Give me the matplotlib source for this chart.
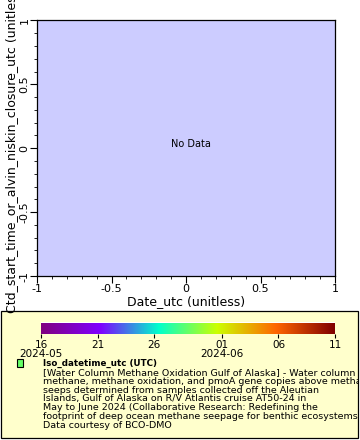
import numpy as np
import matplotlib
matplotlib.use("Agg")
import matplotlib.pyplot as plt
import matplotlib.dates as mdates
from matplotlib.colors import LinearSegmentedColormap, Normalize
from matplotlib.patches import Rectangle
from matplotlib.ticker import MultipleLocator
import datetime as dt

plt.rcParams['font.family'] = ['DejaVu Sans']

# ---- data (no data in this chart) ----
date_utc = np.array([])
ctd_time = np.array([])
iso_datetime = np.array([])

x_label = "Date_utc (unitless)"
y_label = "Ctd_start_time_or_alvin_niskin_closure_utc (unitless)"
axis_ticks = [-1, -0.5, 0, 0.5, 1]
axis_tick_labels = ["-1", "-0.5", "0", "0.5", "1"]

cbar_start = dt.datetime(2024, 5, 16)
cbar_end = dt.datetime(2024, 6, 11)
cbar_tick_dates = [dt.datetime(2024, 5, 16), dt.datetime(2024, 5, 21), dt.datetime(2024, 5, 26),
                   dt.datetime(2024, 6, 1), dt.datetime(2024, 6, 6), dt.datetime(2024, 6, 11)]
cbar_tick_labels = ["16\n2024-05", "21", "26", "01\n2024-06", "06", "11"]

legend_title = "Iso_datetime_utc (UTC)"
legend_lines = [
    "[Water Column Methane Oxidation Gulf of Alaska] - Water column",
    "methane, methane oxidation, and pmoA gene copies above methane",
    "seeps determined from samples collected off the Aleutian",
    "Islands, Gulf of Alaska on R/V Atlantis cruise AT50-24 in",
    "May to June 2024 (Collaborative Research: Redefining the",
    "footprint of deep ocean methane seepage for benthic ecosystems)",
    "Data courtesy of BCO-DMO",
]

cmap = LinearSegmentedColormap.from_list(
    "rainbow2", ["#800080", "#7F00FF", "#00FFCC", "#CCFF00", "#FF6600", "#800000"])

W, H = 360, 440
fig = plt.figure(figsize=(W / 100, H / 100), dpi=100)
fig.patch.set_facecolor("white")

def fx(px):
    return px / W

def fy(py):
    return 1 - py / H

# legend box (behind everything)
leg = Rectangle((fx(1), fy(438)), fx(358) - fx(1), fy(311) - fy(438), transform=fig.transFigure,
                facecolor="#FFFFCC", edgecolor="black", linewidth=0.9, zorder=-5)
fig.add_artist(leg)

# main axes
ax = fig.add_axes([fx(37), fy(276), fx(335) - fx(37), fy(20.5) - fy(276)])
ax.set_facecolor("#CCCCFF")
norm = Normalize(mdates.date2num(cbar_start), mdates.date2num(cbar_end))
ax.scatter(date_utc, ctd_time, c=iso_datetime, cmap=cmap, norm=norm, s=10)
ax.set_xlim(-1, 1)
ax.set_ylim(-1, 1)
ax.set_xticks(axis_ticks)
ax.set_xticklabels(axis_tick_labels)
ax.set_yticks(axis_ticks)
ax.set_yticklabels(axis_tick_labels, rotation=90, va="center")
ax.xaxis.set_minor_locator(MultipleLocator(0.1))
ax.yaxis.set_minor_locator(MultipleLocator(0.1))
ax.tick_params(which="major", direction="out", length=5, width=0.8, labelsize=8, pad=0.5)
ax.tick_params(which="minor", direction="out", length=2.5, width=0.6)
for s in ax.spines.values():
    s.set_linewidth(0.9)
ax.set_xlabel(x_label, fontsize=9, labelpad=1)
ax.set_ylabel(y_label, fontsize=9, labelpad=1)
ax.text(0.03, 0.03, "No Data", ha="center", va="center", fontsize=7)

# colorbar
cax = fig.add_axes([fx(41), fy(334), fx(335) - fx(41), fy(322.5) - fy(334)])
grad = np.linspace(0, 1, 512).reshape(1, -1)
cax.imshow(grad, aspect="auto", cmap=cmap,
           extent=[mdates.date2num(cbar_start), mdates.date2num(cbar_end), 0, 1])
cax.set_xlim(mdates.date2num(cbar_start), mdates.date2num(cbar_end))
cax.set_ylim(0, 1)
cax.set_yticks([])
cax.set_xticks([mdates.date2num(d) for d in cbar_tick_dates])
cax.set_xticklabels(cbar_tick_labels, fontsize=7.5, linespacing=0.95)
cax.tick_params(axis="x", direction="out", length=3, width=0.8, pad=1)
for s in cax.spines.values():
    s.set_visible(False)

# legend marker and text
fig.add_artist(Rectangle((fx(16.5), fy(366.5)), fx(7), fy(359.5) - fy(366.5), transform=fig.transFigure,
                         facecolor="#66FF66", edgecolor="black", linewidth=0.8))
fig.text(fx(43), fy(363), legend_title, fontsize=6.3, fontweight="bold", va="center", ha="left")
body = fig.text(fx(43), fy(368), "\n".join(legend_lines), fontsize=6.8, va="top", ha="left",
                linespacing=0.97)
body.set_clip_path(leg)

fig.savefig("out.png", dpi=100, facecolor="white")
